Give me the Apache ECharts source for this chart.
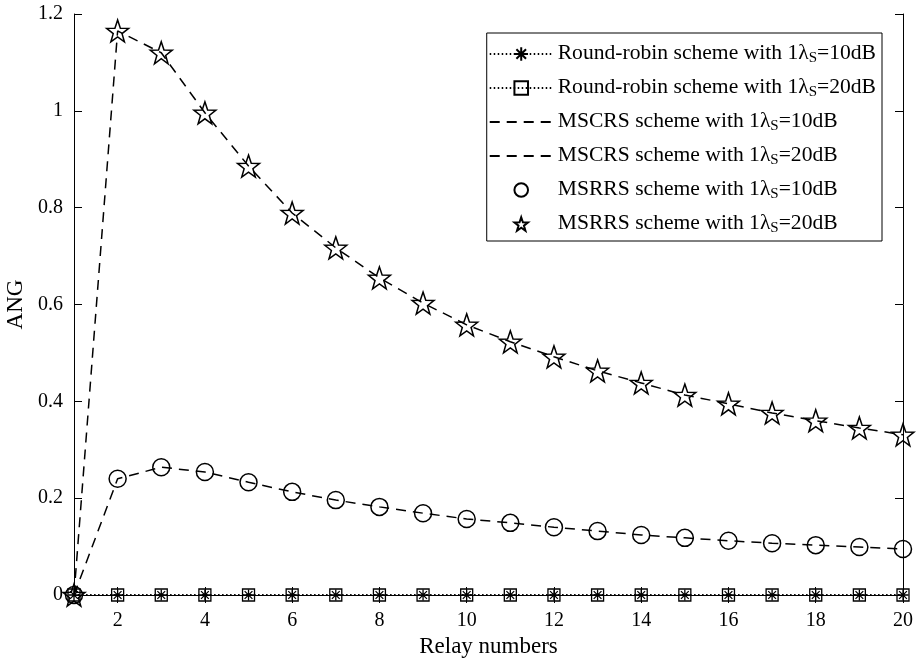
<!DOCTYPE html>
<html>
<head>
<meta charset="utf-8">
<script src="https://cdn.jsdelivr.net/npm/echarts@6/dist/echarts.min.js"></script>
<style>
  html, body { margin: 0; padding: 0; background: #fff; }
  #chart { width: 916px; height: 663px; }
</style>
</head>
<body>
<div id="chart"></div>
<script>
// relay numbers on the x axis
const relayNumbers = [1, 2, 3, 4, 5, 6, 7, 8, 9, 10, 11, 12, 13, 14, 15, 16, 17, 18, 19, 20];
// round-robin curves sit on zero everywhere
const roundRobin10dB = [0, 0, 0, 0, 0, 0, 0, 0, 0, 0, 0, 0, 0, 0, 0, 0, 0, 0, 0, 0];
const roundRobin20dB = [0, 0, 0, 0, 0, 0, 0, 0, 0, 0, 0, 0, 0, 0, 0, 0, 0, 0, 0, 0];
// MSCRS / MSRRS (same curve, line vs markers)
const ang10dB = [0, 0.240, 0.264, 0.254, 0.233, 0.213, 0.196, 0.182, 0.169, 0.157,
  0.149, 0.140, 0.132, 0.124, 0.118, 0.112, 0.107, 0.103, 0.099, 0.095];
const ang20dB = [0, 1.165, 1.120, 0.996, 0.886, 0.789, 0.717, 0.655, 0.603, 0.558,
  0.523, 0.492, 0.463, 0.438, 0.413, 0.395, 0.376, 0.360, 0.345, 0.331];

const asterisk = 'path://M0,-10L0,10M-10,0L10,0M-7.07,-7.07L7.07,7.07M-7.07,7.07L7.07,-7.07';
const star = 'path://M0,-10L2.35,-3.24L9.51,-3.09L3.8,1.24L5.88,8.09L0,4L-5.88,8.09L-3.8,1.24L-9.51,-3.09L-2.35,-3.24Z';

const font = 'Liberation Serif';
const ink = '#000';
const evenOnly = (i, v) => Number(v) % 2 === 0;

const names = [
  'Round-robin scheme with 1λ_S=10dB',
  'Round-robin scheme with 1λ_S=20dB',
  'MSCRS scheme with 1λ_S=10dB',
  'MSCRS scheme with 1λ_S=20dB',
  'MSRRS scheme with 1λ_S=10dB',
  'MSRRS scheme with 1λ_S=20dB'
];

const option = {
  animation: false,
  backgroundColor: '#fff',
  textStyle: { fontFamily: font, color: ink },
  grid: { left: 74, right: 13, top: 14, bottom: 68, outerBoundsMode: 'none', containLabel: false },
  legend: {
    orient: 'vertical',
    right: 34,
    top: 33,
    padding: [7, 6, 5, 2],
    itemGap: 8,
    itemWidth: 63,
    itemHeight: 17,
    backgroundColor: '#fff',
    borderColor: ink,
    borderWidth: 1,
    borderRadius: 0,
    data: names.map((n, i) => (i === 2 || i === 3)
      ? { name: n, itemStyle: { opacity: 0 } }
      : { name: n }),
    formatter: name => {
      const parts = name.split('_S');
      return '{a|' + parts[0] + '}{s|S}{a|' + parts[1] + '}';
    },
    textStyle: {
      fontFamily: font,
      color: ink,
      rich: {
        a: { fontFamily: font, fontSize: 21.6, color: ink, lineHeight: 24, verticalAlign: 'top' },
        s: { fontFamily: font, fontSize: 15, color: ink, lineHeight: 16, padding: [11, 0, 0, 0], verticalAlign: 'bottom' }
      }
    }
  },
  xAxis: [{
    type: 'category',
    data: relayNumbers,
    boundaryGap: false,
    name: 'Relay numbers',
    nameLocation: 'middle',
    nameGap: 33,
    nameTextStyle: { fontFamily: font, fontSize: 23, color: ink },
    axisLine: { lineStyle: { color: ink, width: 1 } },
    axisTick: { inside: true, length: 8, interval: evenOnly, lineStyle: { color: ink } },
    axisLabel: { interval: evenOnly, fontFamily: font, fontSize: 20, color: ink, margin: 16 },
    splitLine: { show: false }
  }, {
    type: 'category',
    data: relayNumbers,
    boundaryGap: false,
    position: 'top',
    axisLine: { lineStyle: { color: ink, width: 1 } },
    axisTick: { inside: true, length: 8, interval: evenOnly, lineStyle: { color: ink } },
    axisLabel: { show: false },
    splitLine: { show: false }
  }],
  yAxis: [{
    type: 'value',
    min: 0,
    max: 1.2,
    interval: 0.2,
    name: 'ANG',
    nameLocation: 'middle',
    nameGap: 42,
    nameTextStyle: { fontFamily: font, fontSize: 23, color: ink },
    axisLine: { show: true, lineStyle: { color: ink, width: 1 } },
    axisTick: { show: true, inside: true, length: 8, lineStyle: { color: ink } },
    axisLabel: { fontFamily: font, fontSize: 20, color: ink, margin: 11 },
    splitLine: { show: false }
  }, {
    type: 'value',
    min: 0,
    max: 1.2,
    interval: 0.2,
    position: 'right',
    axisLine: { show: true, lineStyle: { color: ink, width: 1 } },
    axisTick: { show: true, inside: true, length: 8, lineStyle: { color: ink } },
    axisLabel: { show: false },
    splitLine: { show: false }
  }],
  series: [{
    name: names[0],
    type: 'line',
    data: roundRobin10dB,
    symbol: asterisk,
    symbolSize: 11,
    showAllSymbol: true,
    lineStyle: { color: ink, width: 1.3, type: [1.5, 2.5] },
    itemStyle: { color: 'rgba(0,0,0,0)', borderColor: ink, borderWidth: 1.3 },
    z: 5
  }, {
    name: names[1],
    type: 'line',
    data: roundRobin20dB,
    symbol: 'rect',
    symbolSize: 12,
    showAllSymbol: true,
    lineStyle: { color: ink, width: 1.3, type: [1.5, 2.5] },
    itemStyle: { color: 'rgba(0,0,0,0)', borderColor: ink, borderWidth: 1.3 },
    z: 5
  }, {
    name: names[2],
    type: 'line',
    data: ang10dB,
    symbol: 'none',
    lineStyle: { color: ink, width: 1.5, type: [10, 7] },
    itemStyle: { color: ink }
  }, {
    name: names[3],
    type: 'line',
    data: ang20dB,
    symbol: 'none',
    lineStyle: { color: ink, width: 1.5, type: [10, 7] },
    itemStyle: { color: ink }
  }, {
    name: names[4],
    type: 'line',
    data: ang10dB,
    symbol: 'circle',
    symbolSize: 17,
    showAllSymbol: true,
    lineStyle: { width: 0, opacity: 0 },
    itemStyle: { color: 'rgba(0,0,0,0)', borderColor: ink, borderWidth: 1.5 },
    z: 4
  }, {
    name: names[5],
    type: 'line',
    data: ang20dB,
    symbol: star,
    symbolSize: 22,
    showAllSymbol: true,
    lineStyle: { width: 0, opacity: 0 },
    itemStyle: { color: 'rgba(0,0,0,0)', borderColor: ink, borderWidth: 1.5 },
    z: 4
  }]
};

const chart = echarts.init(document.getElementById('chart'), null, { renderer: 'canvas' });
chart.setOption(option);
</script>
</body>
</html>
